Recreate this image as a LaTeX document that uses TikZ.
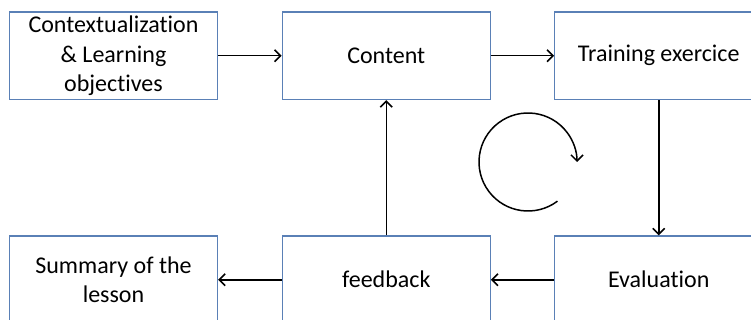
\documentclass[tikz,border=0pt]{standalone}
\usepackage{fontspec}
\setmainfont{Carlito}[Ligatures=NoCommon]
\usetikzlibrary{arrows.meta}
\definecolor{boxline}{RGB}{90,128,182}
\begin{document}
\begin{tikzpicture}[x=1pt, y=-1pt,
    stage/.style={draw=boxline, line width=1.3pt, minimum width=208pt, minimum height=87.5pt,
                  align=center, inner sep=0pt, font=\fontsize{24}{29.3}\selectfont},
    flow/.style={-{Straight Barb[length=6pt,width=12pt]}, line width=1.5pt}]
    \useasboundingbox (0,0) rectangle (751,320);
    \clip (0,0) rectangle (751,320);
    % top row
    \node[stage] (ctx) at (113.5,55.75) {Contextualization\\ \& Learning\\ objectives};
    \node[stage] (content) at (386.25,55.75) {Content};
    \node[stage] (train) at (658.75,55.75) {Training exercice};
    % bottom row
    \node[stage] (summary) at (113.5,279.75) {Summary of the\\ lesson};
    \node[stage] (feedback) at (386.25,279.75) {feedback};
    \node[stage] (eval) at (658.75,279.75) {Evaluation};
    \draw[flow] (ctx) -- (content);
    \draw[flow] (content) -- (train);
    \draw[flow] (train) -- (eval);
    \draw[flow] (eval) -- (feedback);
    \draw[flow] (feedback) -- (summary);
    \draw[flow] (feedback) -- (content);
    % cycle mark
    \draw[flow] (528,162) ++(53:49) arc[start angle=53, end angle=360, radius=49];
\end{tikzpicture}
\end{document}
